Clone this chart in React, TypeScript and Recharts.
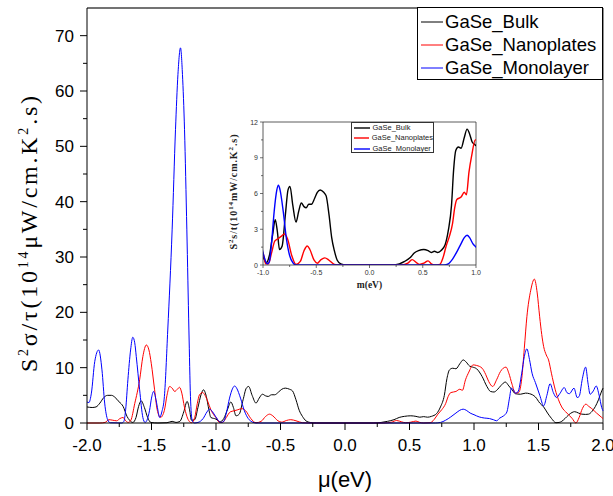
import React from 'react';
import { LineChart, Line, XAxis, YAxis, ReferenceLine, Legend } from 'recharts';

const SANS = '"Liberation Sans", Arial, sans-serif';
const SERIF = '"Liberation Serif", "Times New Roman", serif';

const seriesNames = ['GaSe_Bulk', 'GaSe_Nanoplates', 'GaSe_Monolayer'];
const seriesColors = ['#000000', '#ff0000', '#0000ff'];

const bulkPoints: [number, number][] = [
  [-2.0, 2.9], [-1.96, 2.8], [-1.93, 2.9], [-1.9, 3.6], [-1.87, 4.6], [-1.84, 5.0], [-1.81, 5.0], [-1.786, 4.7],
  [-1.75, 3.8], [-1.72, 3.0], [-1.69, 1.2], [-1.67, 0.5], [-1.645, 0.1], [-1.62, 1.0], [-1.6, 3.0], [-1.58, 4.0],
  [-1.555, 2.8], [-1.53, 1.0], [-1.505, 0.1], [-1.45, 0], [-1.38, 0.05], [-1.34, 0.3], [-1.31, 0.1], [-1.28, 0.3],
  [-1.25, 2.0], [-1.224, 3.9], [-1.205, 2.4], [-1.19, 0.5], [-1.165, 0.6], [-1.14, 2.8], [-1.115, 5.2], [-1.097, 6.0],
  [-1.075, 4.8], [-1.055, 2.4], [-1.04, 1.0], [-1.0, 0.7], [-0.97, 0.2], [-0.94, 0.8], [-0.91, 2.5], [-0.885, 3.8],
  [-0.865, 2.8], [-0.845, 1.3], [-0.82, 1.6], [-0.79, 4.2], [-0.765, 6.3], [-0.747, 6.6], [-0.72, 5.0], [-0.69, 3.6],
  [-0.665, 4.5], [-0.64, 5.2], [-0.615, 4.9], [-0.595, 4.8], [-0.57, 5.1], [-0.545, 5.1], [-0.515, 5.6], [-0.49, 6.1],
  [-0.463, 6.3], [-0.43, 6.1], [-0.407, 5.8], [-0.38, 4.2], [-0.355, 2.3], [-0.33, 1.2], [-0.303, 0.4], [-0.27, 0.1],
  [-0.22, 0], [0.22, 0], [0.28, 0.1], [0.33, 0.3], [0.38, 0.6], [0.42, 1.0], [0.46, 1.2], [0.51, 1.3], [0.55, 1.2],
  [0.58, 1.05], [0.61, 1.15], [0.64, 1.05], [0.67, 1.2], [0.71, 1.7], [0.74, 2.9], [0.77, 5.0], [0.79, 8.0], [0.81, 9.6],
  [0.835, 9.9], [0.86, 9.8], [0.89, 10.7], [0.916, 11.4], [0.94, 11.0], [0.965, 10.3], [0.99, 10.1], [1.02, 9.8],
  [1.063, 8.4], [1.1, 6.6], [1.128, 5.7], [1.155, 5.6], [1.18, 6.0], [1.21, 6.8], [1.243, 7.4], [1.27, 6.7], [1.295, 6.0],
  [1.32, 5.3], [1.36, 5.2], [1.4, 5.4], [1.43, 5.3], [1.476, 4.7], [1.51, 3.6], [1.54, 2.9], [1.57, 1.8], [1.6, 0.85],
  [1.635, 0.05], [1.66, 0.1], [1.68, 0.3], [1.705, 0.8], [1.733, 1.45], [1.76, 1.9], [1.78, 2.05], [1.81, 1.8],
  [1.836, 1.6], [1.865, 1.55], [1.888, 1.6], [1.915, 2.1], [1.94, 2.95], [1.965, 4.2], [1.99, 5.8], [2.0, 6.3],
];

const nanoPoints: [number, number][] = [
  [-2.0, 0], [-1.9, 0], [-1.86, 0.1], [-1.83, 0.6], [-1.8, 0.5], [-1.77, 0.4], [-1.745, 0.8], [-1.72, 1.0], [-1.7, 0.4],
  [-1.68, 0.1], [-1.66, 0.5], [-1.63, 3.5], [-1.592, 7.8], [-1.567, 12.0], [-1.54, 14.1], [-1.52, 13.2], [-1.502, 10.8],
  [-1.476, 6.0], [-1.456, 2.4], [-1.43, 1.0], [-1.4, 2.3], [-1.38, 5.0], [-1.36, 6.6], [-1.34, 6.3], [-1.32, 5.7],
  [-1.3, 6.1], [-1.283, 6.45], [-1.265, 5.4], [-1.245, 2.9], [-1.213, 0.5], [-1.19, 0.05], [-1.165, 1.0], [-1.145, 3.5],
  [-1.128, 5.1], [-1.103, 5.5], [-1.085, 5.0], [-1.064, 3.9], [-1.04, 2.4], [-1.012, 1.3], [-0.99, 0.7], [-0.975, 0.1],
  [-0.95, 0.1], [-0.92, 1.0], [-0.89, 2.0], [-0.86, 2.2], [-0.83, 2.4], [-0.8, 2.6], [-0.77, 2.2], [-0.73, 0.8],
  [-0.69, 0.05], [-0.65, 0.3], [-0.615, 1.2], [-0.585, 1.6], [-0.56, 1.3], [-0.52, 0.4], [-0.49, 0.15], [-0.455, 0.45],
  [-0.42, 0.6], [-0.38, 0.4], [-0.33, 0.05], [-0.28, 0], [0.3, 0], [0.36, 0.15], [0.4, 0.45], [0.44, 0.2], [0.47, 0.05],
  [0.51, 0.15], [0.55, 0.35], [0.58, 0.1], [0.61, 0], [0.66, 0.05], [0.69, 0.6], [0.72, 1.6], [0.75, 2.4], [0.78, 3.5],
  [0.8, 4.8], [0.82, 5.5], [0.86, 5.7], [0.89, 6.1], [0.91, 5.9], [0.934, 7.8], [0.96, 9.2], [0.993, 10.5], [1.02, 10.4],
  [1.063, 9.9], [1.09, 8.8], [1.114, 7.5], [1.145, 6.6], [1.175, 7.8], [1.205, 9.3], [1.248, 10.1], [1.27, 9.0],
  [1.295, 7.0], [1.32, 5.4], [1.346, 5.5], [1.37, 8.0], [1.39, 13.5], [1.41, 19.2], [1.44, 24.0], [1.468, 26.0],
  [1.49, 23.5], [1.509, 19.2], [1.525, 16.0], [1.54, 13.8], [1.56, 12.3], [1.578, 11.4], [1.6, 9.0], [1.63, 6.0],
  [1.655, 4.2], [1.68, 2.9], [1.72, 1.8], [1.76, 0.85], [1.79, 0.0], [1.815, 1.0], [1.84, 2.6], [1.867, 3.4],
  [1.89, 3.0], [1.913, 2.6], [1.95, 1.8], [1.99, 1.0], [2.0, 0.8],
];

const monoPoints: [number, number][] = [
  [-2.0, 3.8], [-1.985, 3.7], [-1.966, 5.4], [-1.94, 11.1], [-1.91, 13.2], [-1.884, 9.6], [-1.863, 3.6], [-1.84, 0.6],
  [-1.82, 0.05], [-1.73, 0], [-1.714, 0.3], [-1.7, 2.5], [-1.683, 7.8], [-1.662, 13.2], [-1.645, 15.5], [-1.63, 14.5],
  [-1.618, 12.0], [-1.592, 6.0], [-1.567, 1.0], [-1.55, 0.1], [-1.535, 0.5], [-1.515, 2.3], [-1.5, 4.5], [-1.484, 5.7],
  [-1.465, 4.2], [-1.45, 2.3], [-1.437, 1.0], [-1.42, 2.0], [-1.4, 4.8], [-1.374, 16.8], [-1.34, 34.9], [-1.314, 53],
  [-1.295, 63], [-1.275, 67.8], [-1.26, 63], [-1.244, 53], [-1.226, 34.9], [-1.21, 16.8], [-1.198, 4.8], [-1.185, 0.5],
  [-1.17, 0], [-1.14, 0.1], [-1.1, 0.8], [-1.07, 2.0], [-1.05, 2.5], [-1.02, 1.8], [-0.99, 0.7], [-0.96, 0.1],
  [-0.94, 0.3], [-0.92, 1.8], [-0.895, 4.5], [-0.87, 6.3], [-0.855, 6.7], [-0.84, 6.3], [-0.81, 4.5], [-0.78, 2.2],
  [-0.75, 0.8], [-0.72, 0.2], [-0.69, 0], [0.7, 0], [0.74, 0.1], [0.78, 0.5], [0.82, 1.1], [0.86, 1.8], [0.89, 2.3],
  [0.916, 2.5], [0.94, 2.3], [0.97, 1.8], [1.0, 1.5], [1.04, 1.1], [1.08, 0.9], [1.12, 0.8], [1.15, 0.6], [1.175, 0.4],
  [1.2, 0.9], [1.23, 1.3], [1.255, 2.0], [1.275, 4.5], [1.29, 6.3], [1.305, 6.0], [1.32, 5.4], [1.34, 5.6], [1.37, 9.0],
  [1.39, 12.0], [1.41, 13.4], [1.43, 11.5], [1.45, 9.0], [1.476, 7.3], [1.51, 5.0], [1.54, 3.1], [1.565, 5.0],
  [1.59, 7.1], [1.615, 5.5], [1.64, 4.6], [1.665, 5.3], [1.7, 6.4], [1.72, 5.5], [1.74, 5.3], [1.775, 6.3], [1.8, 4.6],
  [1.815, 4.8], [1.84, 8.0], [1.865, 10.1], [1.885, 7.0], [1.9, 5.2], [1.925, 5.8], [1.947, 6.7], [1.97, 5.0],
  [1.99, 2.8], [2.0, 2.2],
];

const mainXTicks = [-2, -1.75, -1.5, -1.25, -1, -0.75, -0.5, -0.25, 0, 0.25, 0.5, 0.75, 1, 1.25, 1.5, 1.75, 2];
const mainYTicks = [0, 5, 10, 15, 20, 25, 30, 35, 40, 45, 50, 55, 60, 65, 70];
const insetXTicks = [-1, -0.75, -0.5, -0.25, 0, 0.25, 0.5, 0.75, 1];
const insetYTicks = [0, 1.5, 3, 4.5, 6, 7.5, 9, 10.5, 12];

const toData = (pts: [number, number][]) => pts.map(([x, y]) => ({ x, y }));
const seriesData = [toData(bulkPoints), toData(nanoPoints), toData(monoPoints)];

const isMult = (v: number, step: number) => Math.abs(v / step - Math.round(v / step)) < 1e-6;

function MainXTick(props: any) {
  const { x, y, payload } = props;
  const v = payload.value as number;
  const major = isMult(v, 0.5);
  return (
    <g>
      <line x1={x} y1={y} x2={x} y2={y + (major ? 7 : 4)} stroke="#000" strokeWidth={1} />
      {major && (
        <text x={x} y={y + 28} textAnchor="middle" fontSize={17} fontFamily={SANS} fill="#000">
          {v.toFixed(1)}
        </text>
      )}
    </g>
  );
}

function MainYTick(props: any) {
  const { x, y, payload } = props;
  const v = payload.value as number;
  const major = isMult(v, 10);
  return (
    <g>
      <line x1={x - (major ? 7 : 4)} y1={y} x2={x} y2={y} stroke="#000" strokeWidth={1} />
      {major && (
        <text x={x - 13} y={y} dy="0.36em" textAnchor="end" fontSize={17} fontFamily={SANS} fill="#000">
          {v}
        </text>
      )}
    </g>
  );
}

function InsetXTick(props: any) {
  const { x, y, payload } = props;
  const v = payload.value as number;
  const major = isMult(v, 0.5);
  return (
    <g>
      <line x1={x} y1={y} x2={x} y2={y + (major ? 3 : 2)} stroke="#333" strokeWidth={0.7} />
      {major && (
        <text x={x} y={y + 10} textAnchor="middle" fontSize={7} fontFamily={SANS} fill="#333">
          {v.toFixed(1)}
        </text>
      )}
    </g>
  );
}

function InsetYTick(props: any) {
  const { x, y, payload } = props;
  const v = payload.value as number;
  const major = isMult(v, 3);
  return (
    <g>
      <line x1={x - (major ? 3 : 2)} y1={y} x2={x} y2={y} stroke="#333" strokeWidth={0.7} />
      {major && (
        <text x={x - 5} y={y} dy="0.36em" textAnchor="end" fontSize={7} fontFamily={SANS} fill="#333">
          {v}
        </text>
      )}
    </g>
  );
}

const MainXLabel = () => (
  <text x={345} y={487} textAnchor="middle" fontSize={22} fontFamily={SANS} fill="#000">
    μ(eV)
  </text>
);

const MainYLabel = () => (
  <text
    x={37}
    y={234}
    transform="rotate(-90 37 234)"
    textAnchor="middle"
    fontSize={24}
    fontFamily={SERIF}
    fill="#000"
    textLength={276}
    lengthAdjust="spacing"
  >
    S<tspan dy={-9} fontSize={14}>2</tspan>
    <tspan dy={9}>σ/τ(10</tspan>
    <tspan dy={-9} fontSize={14}>14</tspan>
    <tspan dy={9}>μW/cm.K</tspan>
    <tspan dy={-9} fontSize={14}>2</tspan>
    <tspan dy={9}>.s)</tspan>
  </text>
);

const InsetXLabel = () => (
  <text x={154.5} y={178} textAnchor="middle" fontSize={9.5} fontWeight="bold" fontFamily={SERIF} fill="#222">
    m(eV)
  </text>
);

const InsetYLabel = () => (
  <text
    x={22}
    y={82}
    transform="rotate(-90 22 82)"
    textAnchor="middle"
    fontSize={10}
    fontWeight="bold"
    fontFamily={SERIF}
    fill="#222"
    textLength={115}
    lengthAdjust="spacing"
  >
    S<tspan dy={-4} fontSize={7}>2</tspan>
    <tspan dy={4}>s/t(10</tspan>
    <tspan dy={-4} fontSize={7}>14</tspan>
    <tspan dy={4}>mW/cm.K</tspan>
    <tspan dy={-4} fontSize={7}>2</tspan>
    <tspan dy={4}>.s)</tspan>
  </text>
);

const MainLegend = () => (
  <div
    style={{
      border: '1px solid #000',
      background: '#fff',
      width: 186,
      height: 73,
      boxSizing: 'border-box',
      paddingTop: 2,
      paddingLeft: 3,
      fontFamily: SANS,
      fontSize: 18.5,
      color: '#000',
    }}
  >
    {seriesNames.map((n, i) => (
      <div key={n} style={{ display: 'flex', alignItems: 'center', height: 23, whiteSpace: 'nowrap' }}>
        <svg width={22} height={10} style={{ display: 'block' }}>
          <line x1={0} y1={5} x2={22} y2={5} stroke={seriesColors[i]} strokeWidth={1} />
        </svg>
        <span style={{ marginLeft: 2, lineHeight: '23px' }}>{n}</span>
      </div>
    ))}
  </div>
);

const InsetLegend = () => (
  <div
    style={{
      border: '0.8px solid #333',
      background: '#fff',
      width: 83,
      height: 31,
      boxSizing: 'border-box',
      paddingLeft: 1.5,
      fontFamily: SANS,
      fontSize: 7.5,
      color: '#222',
    }}
  >
    {seriesNames.map((n, i) => (
      <div key={n} style={{ display: 'flex', alignItems: 'center', height: 10.3, whiteSpace: 'nowrap' }}>
        <svg width={16} height={4} style={{ display: 'block' }}>
          <line x1={0} y1={2} x2={16} y2={2} stroke={seriesColors[i]} strokeWidth={1.4} />
        </svg>
        <span style={{ marginLeft: 3, lineHeight: '10px' }}>{n}</span>
      </div>
    ))}
  </div>
);

export default function App() {
  return (
    <div style={{ position: 'absolute', left: 0, top: 0, width: 613, height: 496, background: '#fff' }}>
      <LineChart width={613} height={496} margin={{ top: 8, right: 10, bottom: 43, left: 27 }}>
        <XAxis
          type="number"
          dataKey="x"
          domain={[-2, 2]}
          ticks={mainXTicks}
          interval={0}
          tickSize={0}
          tickMargin={0}
          tickLine={false}
          tick={<MainXTick />}
          axisLine={{ stroke: '#000', strokeWidth: 1 }}
          height={30}
          label={<MainXLabel />}
        />
        <YAxis
          type="number"
          dataKey="y"
          domain={[0, 75]}
          ticks={mainYTicks}
          interval={0}
          tickSize={0}
          tickMargin={0}
          tickLine={false}
          tick={<MainYTick />}
          axisLine={{ stroke: '#000', strokeWidth: 1 }}
          width={60}
          label={<MainYLabel />}
        />
        <ReferenceLine y={75} stroke="#444" strokeWidth={1.5} />
        <ReferenceLine x={2} stroke="#222" strokeWidth={1} />
        {seriesData.map((d, i) => (
          <Line
            key={seriesNames[i]}
            name={seriesNames[i]}
            data={d}
            dataKey="y"
            type="monotone"
            stroke={seriesColors[i]}
            strokeWidth={1}
            dot={false}
            activeDot={false}
            isAnimationActive={false}
          />
        ))}
        <Legend
          layout="vertical"
          align="center"
          verticalAlign="middle"
          content={<MainLegend />}
          wrapperStyle={{ left: 417, top: 7, width: 186, height: 73 }}
        />
      </LineChart>
      <div style={{ position: 'absolute', left: 215, top: 110 }}>
        <LineChart width={275} height={190} margin={{ top: 12, right: 14, bottom: 10, left: 8 }}>
          <XAxis
            type="number"
            dataKey="x"
            domain={[-1, 1]}
            allowDataOverflow
            ticks={insetXTicks}
            interval={0}
            tickSize={0}
            tickMargin={0}
            tickLine={false}
            tick={<InsetXTick />}
            axisLine={{ stroke: '#333', strokeWidth: 0.8 }}
            height={25}
            label={<InsetXLabel />}
          />
          <YAxis
            type="number"
            dataKey="y"
            domain={[0, 12]}
            allowDataOverflow
            ticks={insetYTicks}
            interval={0}
            tickSize={0}
            tickMargin={0}
            tickLine={false}
            tick={<InsetYTick />}
            axisLine={{ stroke: '#333', strokeWidth: 0.8 }}
            width={40}
            label={<InsetYLabel />}
          />
          <ReferenceLine y={12} stroke="#333" strokeWidth={0.8} />
          <ReferenceLine x={1} stroke="#333" strokeWidth={0.8} />
          {seriesData.map((d, i) => (
            <Line
              key={seriesNames[i]}
              name={seriesNames[i]}
              data={d}
              dataKey="y"
              type="monotone"
              stroke={seriesColors[i]}
              strokeWidth={1.4}
              dot={false}
              activeDot={false}
              isAnimationActive={false}
            />
          ))}
          <Legend
            layout="vertical"
            align="center"
            verticalAlign="middle"
            content={<InsetLegend />}
            wrapperStyle={{ left: 136, top: 12, width: 83, height: 31 }}
          />
        </LineChart>
      </div>
    </div>
  );
}
